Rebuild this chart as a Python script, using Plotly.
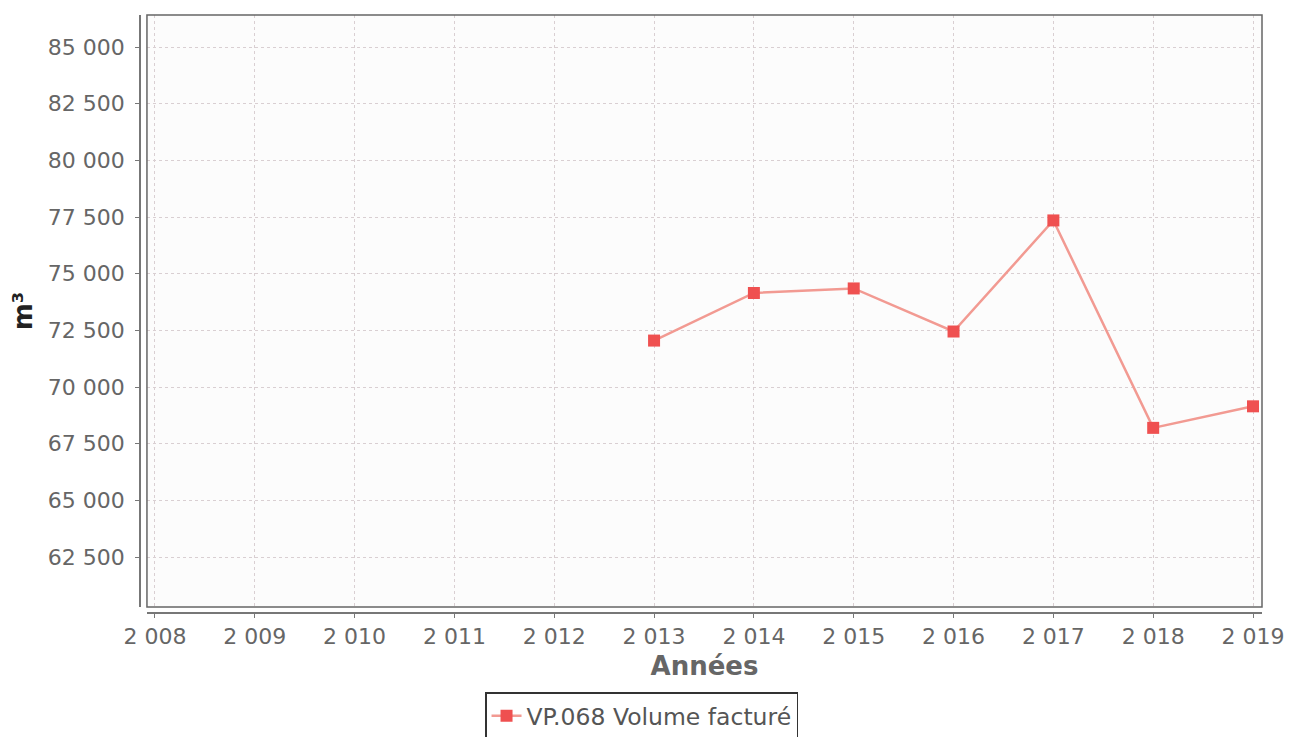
import plotly.graph_objects as go

# Data
years = [2013, 2014, 2015, 2016, 2017, 2018, 2019]
volume = [72050, 74150, 74350, 72450, 77350, 68200, 69150]
series_name = "VP.068 Volume facturé"
x_ticks = list(range(2008, 2020))
y_ticks = list(range(62500, 85001, 2500))

fig = go.Figure()
fig.add_trace(go.Scatter(
    x=years, y=volume, mode="lines+markers", name=series_name,
    line=dict(color="#f29a92", width=2.5),
    marker=dict(symbol="square", size=12, color="#ef5050"),
    showlegend=True,
))

tick_font = dict(family="DejaVu Sans", size=22, color="#666666")
grid_col = "#d9cfd2"

# page body has an 8px margin, so the figure is sized to fill the window
fig.update_layout(
    width=1294, height=729,
    margin=dict(l=132, r=40, t=7, b=124, autoexpand=False),
    paper_bgcolor="white",
    plot_bgcolor="#fcfcfc",
    separators=", ",
    font=dict(family="DejaVu Sans", color="#666666"),
    xaxis=dict(
        domain=[0.0062, 1], anchor="free", position=0, automargin=False,
        range=[2007.92, 2019.09],
        tickmode="array", tickvals=x_ticks, tickformat=",d",
        tickfont=tick_font,
        showgrid=True, gridcolor=grid_col, griddash="dot", gridwidth=1,
        showline=True, linecolor="#777777", linewidth=1.5,
        ticks="outside", ticklen=4, tickcolor="#777777",
        zeroline=False,
        title=dict(text="<b>Années</b>", font=dict(family="DejaVu Sans", size=26, color="#666666"), standoff=8),
    ),
    yaxis=dict(
        domain=[0.01, 1], anchor="free", position=0, automargin=False,
        range=[60297, 86412],
        tickmode="array", tickvals=y_ticks, tickformat=",d",
        tickfont=tick_font, ticklabelstandoff=6,
        showgrid=True, gridcolor=grid_col, griddash="dot", gridwidth=1,
        showline=True, linecolor="#777777", linewidth=1.5,
        ticks="outside", ticklen=4, tickcolor="#777777",
        zeroline=False,
        title=dict(text="<b>m³</b>", font=dict(family="DejaVu Sans", size=26, color="#222222"), standoff=15),
    ),
    legend=dict(
        orientation="h", x=0.447, xanchor="center", y=-0.172, yanchor="middle",
        bordercolor="#333333", borderwidth=1.5, bgcolor="white",
        font=dict(family="DejaVu Sans", size=23.5, color="#555555"),
        itemwidth=30,
    ),
    shapes=[dict(
        type="rect", xref="paper", yref="paper", x0=0.0062, x1=1, y0=0.01, y1=1,
        line=dict(color="#666666", width=1.5), fillcolor="rgba(0,0,0,0)", layer="above",
    )],
)

fig.write_html("out.html")
